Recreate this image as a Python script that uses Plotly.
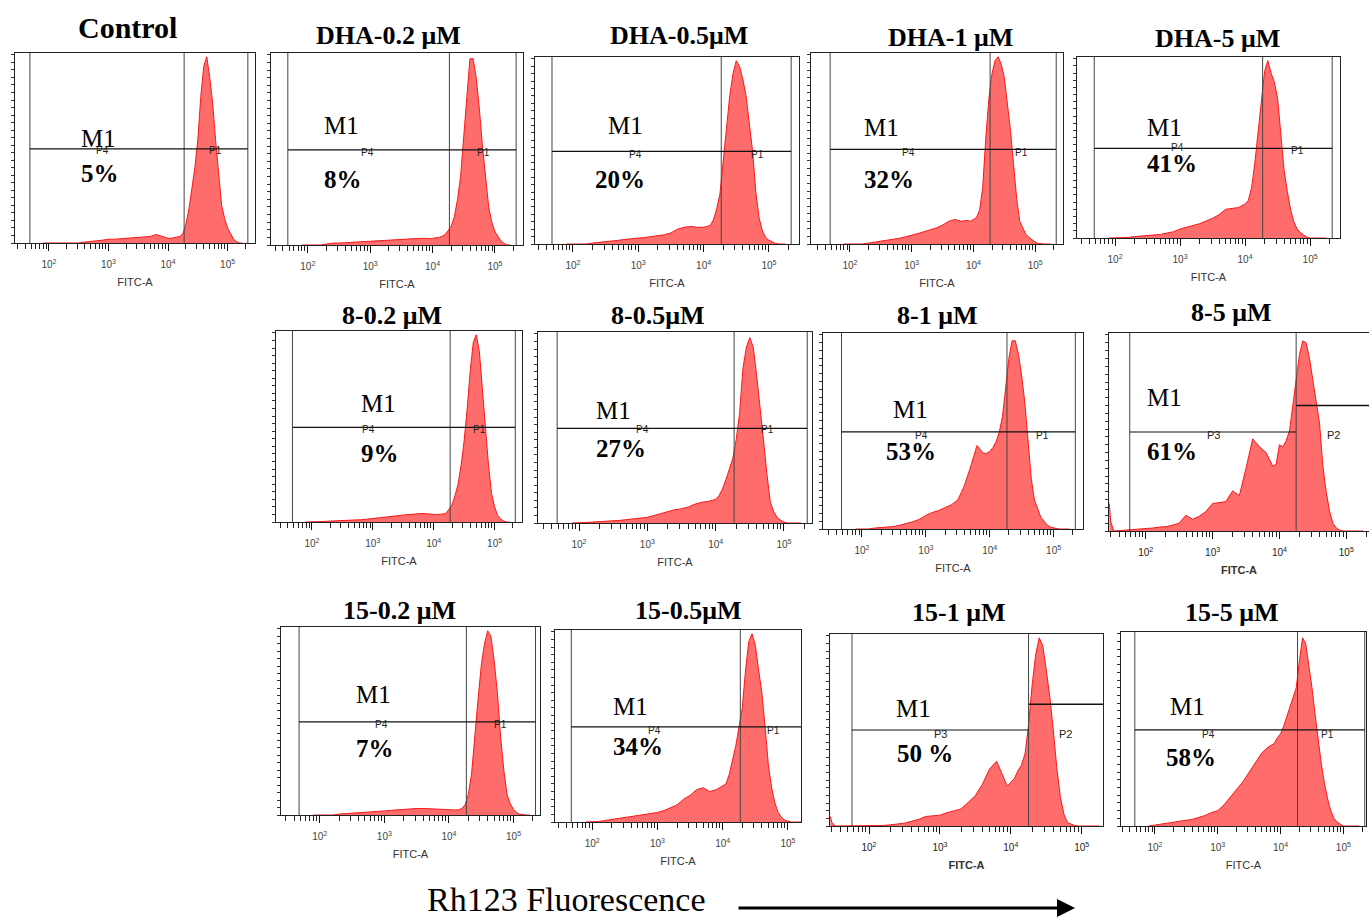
import plotly.graph_objects as go

W, H = 1369, 918

# ---------------- data (log10 fluorescence grid and normalised counts, % of peak) -------------
LOG_LOW = [1.9, 2.0, 2.1, 2.2, 2.3, 2.4, 2.5, 2.6, 2.7, 2.8, 2.9, 3.0, 3.1, 3.2, 3.3, 3.4, 3.5, 3.6, 3.7, 3.8, 3.9]
LOG_HIGH = [3.95, 4.0, 4.05, 4.1, 4.15, 4.2, 4.25, 4.3, 4.35, 4.4, 4.45, 4.5, 4.55, 4.6, 4.65,
            4.7, 4.75, 4.8, 4.85, 4.9, 4.95, 5.0, 5.05, 5.1, 5.15, 5.2, 5.25]
LOG_FL = LOG_LOW + LOG_HIGH

control = [0, 0, 0, 0, 0, 0, 0, 0.5, 1, 1.2, 1.5, 2, 2, 2.2, 2.5, 2.5, 2.8, 3, 3.5, 4.5, 3.5] + \
          [3, 2.5, 2.5, 2.8, 3, 3.5, 5, 10, 18, 28, 40, 55, 78, 94, 99, 88, 74, 54, 36, 20, 13, 8, 5, 2, 0.8, 0, 0]
dha_02 = [0, 0, 0, 0, 0.5, 1, 1, 1.2, 1.3, 1.5, 1.8, 2, 2.2, 2.5, 2.8, 3, 3.2, 3.3, 3.4, 3.5, 3.5] + \
         [3.3, 3.5, 3.6, 4, 4.5, 5.5, 7.5, 10, 15, 24, 36, 55, 78, 98, 98, 88, 72, 52, 34, 20, 12, 7, 4.5, 2, 0.8, 0, 0]
dha_05 = [0, 0, 0, 0, 0.5, 0.8, 1, 1.5, 2, 2.5, 2.8, 3, 3.5, 4, 4.5, 5, 6, 8, 9, 9.5, 9] + \
         [9, 9, 9.5, 10, 13, 19, 27, 44, 62, 80, 92, 99, 96, 89, 80, 66, 50, 28, 14, 7, 3.5, 2, 1, 0.3, 0, 0, 0]
dha_1 = [0, 0, 0, 0, 0.5, 1, 1.3, 1.7, 2.3, 3, 3.8, 4.5, 5.5, 6.5, 7.5, 8.5, 10, 12, 13, 12, 12.5] + \
        [12, 13, 14, 18, 30, 56, 77, 90, 97, 99, 95, 88, 74, 60, 42, 24, 12, 8, 5, 3.5, 2, 1, 0.3, 0, 0, 0, 0]
dha_5 = [0, 0, 0, 0.3, 0.8, 1, 1.2, 1.5, 2, 2.8, 3.5, 5, 6, 7, 8, 9.5, 11, 13, 16, 16.5, 17] + \
        [18, 19, 21, 28, 42, 60, 78, 93, 99, 92, 87, 78, 58, 38, 26, 16, 9, 5, 3, 1.5, 0.5, 0, 0, 0, 0, 0, 0]
c8_02 = [0, 0, 0, 0.3, 0.5, 0.6, 0.8, 1, 1, 1.2, 1.5, 1.8, 2.2, 2.5, 3, 3.3, 3.7, 4, 4.5, 4.5, 4.3] + \
        [4, 4, 4, 4, 4.2, 4.5, 6.5, 9, 14, 20, 30, 43, 60, 80, 95, 99, 90, 72, 50, 30, 15, 8, 3.5, 1.5, 0.5, 0, 0]
c8_05 = [0, 0, 0.3, 0.5, 0.7, 0.8, 1, 1.4, 1.8, 2.2, 2.6, 3, 4, 5, 6, 7, 7.5, 8.5, 10, 11, 11.5] + \
        [12, 12.5, 14.5, 18, 23, 28, 34, 44, 58, 82, 93, 98, 93, 78, 62, 44, 26, 11, 6, 3, 1.5, 0.5, 0, 0, 0, 0, 0]
c8_1 = [0, 0, 0, 0.5, 0.8, 1, 1.3, 2, 2.8, 3.8, 5, 7, 8.5, 9.5, 11, 12.5, 15, 22, 32, 43, 39] + \
       [39, 40, 42, 45, 50, 58, 72, 88, 97, 97, 90, 79, 65, 45, 26, 15, 10, 6, 4, 2, 1, 0.5, 0.2, 0, 0, 0, 0]
c8_5 = [0.8, 1, 1.5, 2, 2.2, 3, 4, 8, 6, 7.5, 10, 14, 14.5, 15, 20.5, 18, 32, 47, 43, 40, 33] + \
       [34, 44, 43, 46, 51, 64, 78, 90, 97, 96, 88, 76, 66, 55, 33, 20, 10, 4, 1.5, 0.5, 0, 0, 0, 0, 0, 0, 0]
c15_02 = [0, 0, 0, 0, 0.5, 0.8, 1, 1.2, 1.3, 1.6, 1.9, 2.2, 2.5, 2.8, 3, 3.2, 3.5, 3.5, 3.3, 3, 2.8] + \
         [2.8, 2.7, 2.7, 2.7, 2.8, 3.5, 5.5, 11, 22, 44, 62, 80, 92, 99, 96, 83, 66, 42, 24, 11, 6, 3, 1.2, 0.4, 0, 0, 0]
c15_05 = [0, 0, 0.3, 0.8, 1.3, 1.8, 2.3, 3, 3.5, 4, 4.5, 5, 6, 7.5, 9, 12, 14, 17, 18, 16, 17] + \
         [18, 19, 20, 25, 32, 40, 50, 60, 80, 95, 99, 93, 80, 68, 50, 30, 18, 10, 5, 2.5, 1, 0.3, 0, 0, 0, 0, 0]
c15_1 = [0, 0, 0, 0.3, 0.6, 1, 1.5, 2.5, 3.5, 5, 5.5, 5.7, 7, 8, 9, 12.5, 16, 22, 30, 34, 25] + \
        [21, 23, 25, 29, 32, 38, 53, 74, 90, 99, 95, 82, 68, 50, 30, 15, 6, 1.7, 0.8, 0.3, 0, 0, 0, 0, 0, 0, 0]
c15_5 = [0, 0.5, 1, 1.5, 2, 2.5, 3, 3.5, 4.5, 5.5, 7, 8, 11, 15, 19, 23, 28, 33, 38, 41, 43] + \
        [46, 48, 52, 57, 62, 66, 72, 86, 98, 95, 84, 72, 58, 44, 32, 22, 14, 8, 4, 2, 0.8, 0, 0, 0, 0, 0, 0]

# debris spike at the left edge of the two P3/P2 panels
SPIKE_LOG = [1.455, 1.475, 1.52]
spike_8_5 = [14, 5, 0]
spike_15_1 = [5, 2, 0]

TITLES = ["Control", "DHA-0.2 μM", "DHA-0.5μM", "DHA-1 μM", "DHA-5 μM",
          "8-0.2 μM", "8-0.5μM", "8-1 μM", "8-5 μM",
          "15-0.2 μM", "15-0.5μM", "15-1 μM", "15-5 μM"]
PCT = ["5%", "8%", "20%", "32%", "41%", "9%", "27%", "53%", "61%", "7%", "34%", "50 %", "58%"]
SERIES = [control, dha_02, dha_05, dha_1, dha_5, c8_02, c8_05, c8_1, c8_5, c15_02, c15_05, c15_1, c15_5]
SPIKES = [None] * 8 + [spike_8_5] + [None] * 2 + [spike_15_1] + [None]
GATE_TYPE = ["P4P1"] * 8 + ["P3P2"] + ["P4P1"] * 2 + ["P3P2"] + ["P4P1"]

MAJOR = [1e2, 1e3, 1e4, 1e5]
MAJOR_TXT = ["10<sup>2</sup>", "10<sup>3</sup>", "10<sup>4</sup>", "10<sup>5</sup>"]

# ---------------- layout (pixel geometry of each panel) ----------------
# box = (left, right, top, bottom) in px; xr = visible log10 range
PANELS = [
    dict(box=(15, 255, 53, 243), xr=(1.43, 5.46), t=(127, 27), ts=30, m1=(79, 138), pc=(79, 173), pl=(102, 151), pr=(215, 151)),
    dict(box=(271, 523, 53, 245), xr=(1.41, 5.45), t=(389, 36), ts=26, m1=(322, 126), pc=(322, 179), pl=(367, 153), pr=(483, 153)),
    dict(box=(535, 799, 57, 244), xr=(1.42, 5.46), t=(679, 36), ts=26, m1=(606, 126), pc=(593, 179), pl=(635, 154), pr=(757, 154)),
    dict(box=(811, 1063, 53, 244), xr=(1.37, 5.45), t=(950, 37), ts=26, m1=(862, 127), pc=(862, 180), pl=(909, 152), pr=(1022, 152)),
    dict(box=(1077, 1340, 57, 238), xr=(1.415, 5.46), t=(1217, 38), ts=26, m1=(1145, 127), pc=(1145, 163), pl=(1177, 147), pr=(1297, 151)),
    dict(box=(276, 522, 331, 522), xr=(1.41, 5.45), t=(392, 315), ts=26, m1=(359, 404), pc=(359, 453), pl=(368, 429), pr=(479, 429)),
    dict(box=(538, 812, 332, 523), xr=(1.40, 5.41), t=(657, 315), ts=26, m1=(594, 410), pc=(594, 448), pl=(642, 429), pr=(767, 429)),
    dict(box=(823, 1083, 333, 529), xr=(1.39, 5.46), t=(937, 315), ts=26, m1=(891, 409), pc=(884, 452), pl=(922, 435), pr=(1042, 435)),
    dict(box=(1109, 1369, 333, 531), xr=(1.45, 5.34), t=(1231, 312), ts=26, m1=(1145, 397), pc=(1145, 451), pl=(1213, 435), pr=(1333, 435)),
    dict(box=(281, 540, 627, 815), xr=(1.40, 5.41), t=(399, 610), ts=26, m1=(354, 694), pc=(354, 748), pl=(381, 724), pr=(500, 724)),
    dict(box=(555, 801, 630, 822), xr=(1.43, 5.2), t=(688, 610), ts=26, m1=(611, 706), pc=(611, 746), pl=(654, 730), pr=(773, 730)),
    dict(box=(830, 1103, 634, 826), xr=(1.45, 5.30), t=(958, 612), ts=26, m1=(894, 708), pc=(895, 753), pl=(940, 734), pr=(1065, 734)),
    dict(box=(1121, 1366, 632, 826), xr=(1.46, 5.36), t=(1231, 612), ts=26, m1=(1168, 706), pc=(1164, 757), pl=(1208, 734), pr=(1327, 734)),
]

MINOR = [v * m for m in (10, 100, 1000, 10000, 100000) for v in range(2, 10)]


def px(x):
    return x / W


def py(y):
    return 1 - y / H


SERIF = "Liberation Serif, Times New Roman, serif"
SANS = "Liberation Sans, Arial, sans-serif"

fig = go.Figure()
shapes, annotations, axes = [], [], {}

for i, p in enumerate(PANELS):
    n = i + 1
    sx = "" if n == 1 else str(n)
    L, R, T, B = p["box"]
    lo, hi = p["xr"]

    xs = [10 ** v for v in LOG_FL]
    ys = list(SERIES[i])
    if SPIKES[i] is not None:
        xs = [10 ** v for v in SPIKE_LOG] + xs
        ys = list(SPIKES[i]) + ys
    fig.add_trace(go.Scatter(
        x=xs, y=ys, xaxis="x" + sx, yaxis="y" + sx, mode="lines",
        line=dict(color="rgb(250,25,25)", width=1), fill="tozeroy",
        fillcolor="rgb(255,108,108)", hoverinfo="skip", showlegend=False))

    bold_lbl = GATE_TYPE[i] == "P3P2"
    axes["xaxis" + sx] = dict(
        domain=[px(L), px(R)], anchor="y" + sx, type="log", range=[lo, hi],
        showline=True, linecolor="#222", linewidth=1, mirror=True,
        showgrid=False, zeroline=False, ticks="outside", ticklen=7, tickwidth=1.2, tickcolor="#111",
        tickvals=MAJOR, ticktext=MAJOR_TXT, ticklabelstandoff=5,
        tickfont=dict(family=SANS, size=10, color="#222" if bold_lbl else "#444"),
        minor=dict(tickvals=MINOR, ticks="outside", ticklen=5, tickwidth=1.1, tickcolor="#222", showgrid=False),
        title=dict(text="<b>FITC-A</b>" if bold_lbl else "FITC-A",
                   font=dict(family=SANS, size=11, color="#333"), standoff=9),
        fixedrange=True)
    axes["yaxis" + sx] = dict(
        domain=[py(B), py(T)], anchor="x" + sx, range=[0, 101],
        showline=True, linecolor="#222", linewidth=1, mirror=True,
        showgrid=False, zeroline=False, ticks="outside", ticklen=3, dtick=4,
        tickcolor="#333", showticklabels=False, fixedrange=True)

    def vline(v, color="#444"):
        shapes.append(dict(type="line", xref="x" + sx, yref="y" + sx + " domain",
                           x0=10 ** v, x1=10 ** v, y0=0, y1=1, line=dict(color=color, width=1)))

    def hline(v0, v1, y, color="#111", width=1.2):
        shapes.append(dict(type="line", xref="x" + sx, yref="y" + sx,
                           x0=10 ** v0, x1=10 ** v1, y0=y, y1=y, line=dict(color=color, width=width)))

    if GATE_TYPE[i] == "P4P1":
        lg, mg, rg = 1.68, 4.27, 5.34
        vline(lg)
        vline(mg)
        if rg < hi - 0.01:
            vline(rg)
        hline(lg, min(rg, hi), 50)
        lbl_l, lbl_r = "P4", "P1"
    else:
        lg, mg = 1.76, 4.25
        vline(lg)
        vline(mg)
        hline(lg, mg, 50.5)
        hline(mg, hi, 64, width=1.5)
        lbl_l, lbl_r = "P3", "P2"

    annotations.append(dict(text=TITLES[i], x=px(p["t"][0]), y=py(p["t"][1]), xref="paper", yref="paper",
                            showarrow=False, xanchor="center", yanchor="middle",
                            font=dict(family=SERIF, size=p["ts"], color="black", weight="bold")))
    annotations.append(dict(text="M1", x=px(p["m1"][0]), y=py(p["m1"][1]), xref="paper", yref="paper",
                            showarrow=False, xanchor="left", yanchor="middle",
                            font=dict(family=SERIF, size=25, color="black")))
    annotations.append(dict(text=PCT[i], x=px(p["pc"][0]), y=py(p["pc"][1]), xref="paper", yref="paper",
                            showarrow=False, xanchor="left", yanchor="middle",
                            font=dict(family=SERIF, size=25, color="black", weight="bold")))
    for txt, pos in ((lbl_l, p["pl"]), (lbl_r, p["pr"])):
        annotations.append(dict(text=txt, x=px(pos[0]), y=py(pos[1]), xref="paper", yref="paper",
                                showarrow=False, xanchor="center", yanchor="middle",
                                font=dict(family=SANS, size=11 if bold_lbl else 10, color="#222")))

annotations.append(dict(text="Rh123 Fluorescence", x=px(566), y=py(899), xref="paper", yref="paper",
                        showarrow=False, xanchor="center", yanchor="middle",
                        font=dict(family=SERIF, size=34, color="black")))
annotations.append(dict(text="", x=px(1075), y=py(908), xref="paper", yref="paper",
                        ax=-338, ay=0, axref="pixel", ayref="pixel", showarrow=True,
                        arrowhead=2, arrowsize=1.2, arrowwidth=3, arrowcolor="black"))

fig.update_layout(
    width=W, height=H, autosize=False,
    margin=dict(l=0, r=0, t=0, b=0),
    paper_bgcolor="white", plot_bgcolor="white",
    shapes=shapes, annotations=annotations, showlegend=False,
    **axes)

fig.write_html("out.html", config={"displayModeBar": False},
               post_script="document.body.style.margin='0px';document.body.style.overflow='hidden';")
